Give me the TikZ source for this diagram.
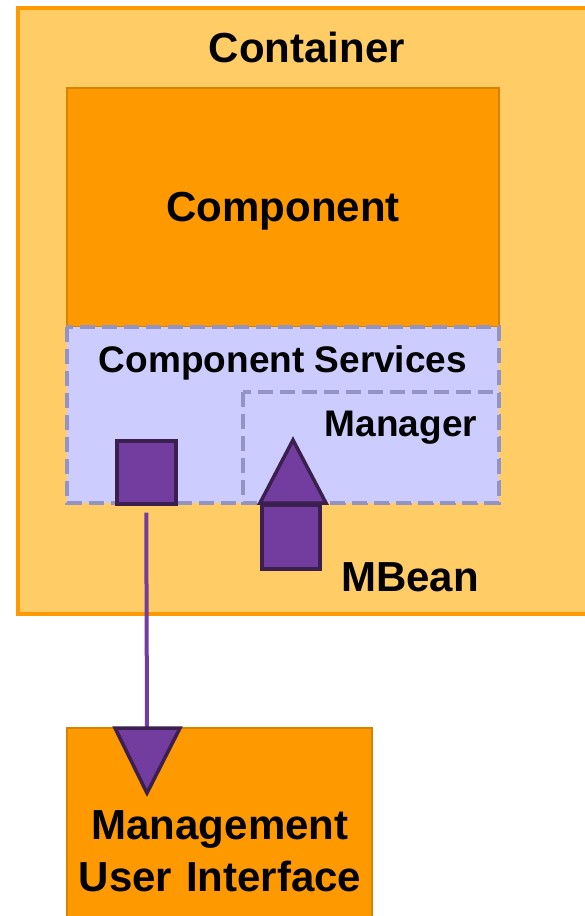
\documentclass[tikz,border=0pt]{standalone}
\usepackage{fontspec}
\setmainfont{Liberation Sans}
\usetikzlibrary{shapes.geometric}
\definecolor{contfill}{HTML}{FFCC66}
\definecolor{orng}{HTML}{FF9900}
\definecolor{orngdark}{HTML}{D98200}
\definecolor{svcfill}{HTML}{CCCCFF}
\definecolor{svcline}{HTML}{9494C4}
\definecolor{purp}{HTML}{733C9F}
\definecolor{purpdark}{HTML}{3A1F4F}
\tikzset{
  lbl/.style={font=\bfseries\fontsize{42}{48}\selectfont, text=black, inner sep=0pt},
  lbls/.style={font=\bfseries\fontsize{37}{42}\selectfont, text=black, inner sep=0pt},
  purpbox/.style={fill=purp, draw=purpdark, line width=3.5pt},
  svcbox/.style={fill=svcfill, draw=svcline, line width=3.5pt, dash pattern=on 15pt off 7pt},
}
\begin{document}
\begin{tikzpicture}[x=1pt,y=-1pt]
\useasboundingbox (0,0) rectangle (584,916);
\fill[white] (0,0) rectangle (584,916);
% container
\draw[fill=contfill, draw=orng, line width=3.5pt] (18,8) rectangle (600,614);
\node[lbl] (cont) at (307,47) {Container};
% component
\draw[fill=orng, draw=orngdark, line width=2pt] (67,88) rectangle (499,327);
\node[lbl] (comp) at (283,211) {Component};
% services
\draw[svcbox] (67,327) rectangle (499,503);
\node[lbls] (svc) at (283,363) {Component Services};
\draw[svcbox] (243,392) rectangle (499,503);
\node[lbls] (mgr) at (401,428) {Manager};
% small square
\node[purpbox, minimum width=59pt, minimum height=63pt, inner sep=0pt, anchor=north west] (sq) at (115,439) {};
% mbean
\node[purpbox, minimum width=58pt, minimum height=64pt, inner sep=0pt, anchor=north west] (mb) at (260,503) {};
\draw[purpbox, line join=miter] (260,503) -- (293,440) -- (326,503) -- cycle;
\node[lbl] (mbl) at (410,577) {MBean};
% management UI
\draw[fill=orng, draw=orngdark, line width=1.5pt] (67,728) rectangle (372,930);
\node[lbl, align=center, text width=300pt] (mui) at (220,851) {Management\\[4pt]User Interface};
\coordinate (tip) at (147,793);
\coordinate (tribase) at (147,728);
\draw[purp, line width=4pt] ([yshift=-7pt]sq.south) -- (tribase);
\draw[purpbox, line join=miter] (115,728) -- (tip) -- (180,728) -- cycle;
\end{tikzpicture}
\end{document}
